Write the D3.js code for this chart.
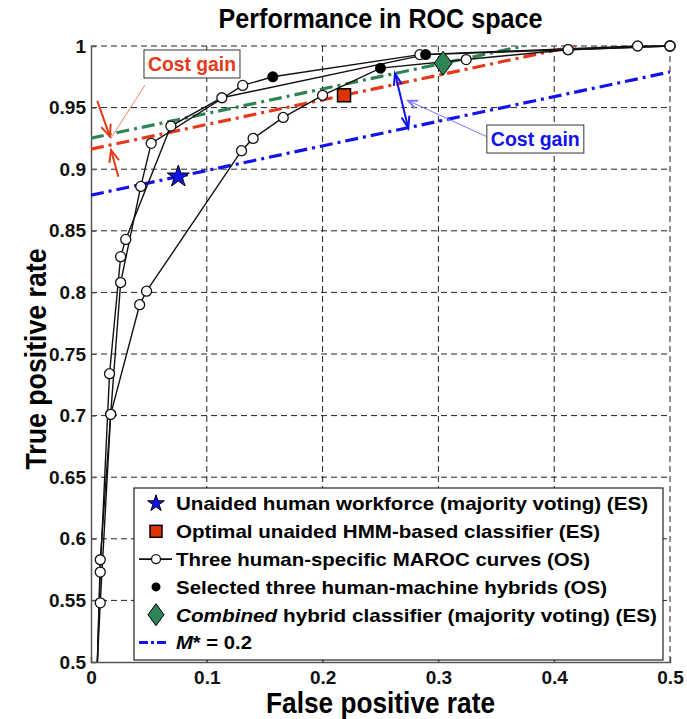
<!DOCTYPE html>
<html>
<head>
<meta charset="utf-8">
<script src="https://cdn.jsdelivr.net/npm/d3@7"></script>
<style>
  html, body { margin: 0; padding: 0; background: #fff; }
  svg { display: block; }
  text { font-family: "Liberation Sans", Arial, sans-serif; font-weight: bold; }
</style>
</head>
<body>
<div id="chart"></div>
<script>
// ---- data ----
const xTicks = [0, 0.1, 0.2, 0.3, 0.4, 0.5];
const xTickLabels = ["0", "0.1", "0.2", "0.3", "0.4", "0.5"];
const yTicks = [0.5, 0.55, 0.6, 0.65, 0.7, 0.75, 0.8, 0.85, 0.9, 0.95, 1];
const yTickLabels = ["0.5", "0.55", "0.6", "0.65", "0.7", "0.75", "0.8", "0.85", "0.9", "0.95", "1"];

// three human-specific MAROC curves (FPR, TPR); first point is where each curve enters the axes
const marocCurve1 = [[0.0055, 0.5], [0.008, 0.548], [0.017, 0.701], [0.0256, 0.808], [0.043, 0.886], [0.052, 0.921], [0.131, 0.968], [0.284, 0.993], [0.472, 1.0], [0.5, 1.0]];
const marocCurve2 = [[0.0055, 0.5], [0.008, 0.573], [0.016, 0.734], [0.0256, 0.829], [0.030, 0.843], [0.069, 0.935], [0.113, 0.958], [0.412, 0.997], [0.5, 1.0]];
const marocCurve3 = [[0.0055, 0.5], [0.008, 0.583], [0.017, 0.701], [0.042, 0.790], [0.048, 0.801], [0.130, 0.915], [0.140, 0.925], [0.166, 0.942], [0.200, 0.960], [0.324, 0.989], [0.412, 0.997], [0.5, 1.0]];
// selected human-machine hybrid on each curve
const hybrids = [[0.157, 0.975], [0.289, 0.993], [0.250, 0.982]];

const unaidedHuman = [0.0754, 0.894];     // star
const optimalHMM = [0.2185, 0.960];       // square
const combinedHybrid = [0.304, 0.986];    // diamond
const isoSlope = 0.2;                     // M* = 0.2

const legendLabels = [
  "Unaided human workforce (majority voting) (ES)",
  "Optimal unaided HMM-based classifier (ES)",
  "Three human-specific MAROC curves (OS)",
  "Selected three human-machine hybrids (OS)",
  "hybrid classifier (majority voting) (ES)",
  " = 0.2"
];
const legendTextWidths = [472, 424, 414, 431, 481, 76];

// ---- setup ----
const W = 687, H = 719;
const svg = d3.select("#chart").append("svg").attr("width", W).attr("height", H);

const x = d3.scaleLinear().domain([0, 0.5]).range([91, 670]);
const y = d3.scaleLinear().domain([0.5, 1]).range([662, 46]);

const RED = "#e5391a", GREEN = "#2e8456", BLUE = "#1212ee";

const defs = svg.append("defs");
defs.append("clipPath").attr("id", "plotclip").append("rect")
  .attr("x", x(0)).attr("y", y(1) - 1).attr("width", x(0.5) - x(0)).attr("height", y(0.5) - y(1) + 1);

// grid
const grid = svg.append("g");
grid.selectAll(".gx").data(xTicks.slice(1)).join("line")
  .attr("x1", d => x(d)).attr("x2", d => x(d)).attr("y1", y(0.5)).attr("y2", y(1))
  .attr("stroke", "#222").attr("stroke-width", 1).attr("stroke-dasharray", "6,4");
grid.selectAll(".gy").data(yTicks.slice(1)).join("line")
  .attr("x1", x(0)).attr("x2", x(0.5)).attr("y1", d => y(d)).attr("y2", d => y(d))
  .attr("stroke", "#222").attr("stroke-width", 1).attr("stroke-dasharray", "6,4");

// axes
const xAxis = d3.axisBottom(x).tickValues(xTicks).tickFormat((d, i) => xTickLabels[i]).tickSize(-5).tickPadding(8);
const yAxis = d3.axisLeft(y).tickValues(yTicks).tickFormat((d, i) => yTickLabels[i]).tickSize(-5).tickPadding(5);
const gx = svg.append("g").attr("transform", `translate(0,${y(0.5)})`).call(xAxis);
const gy = svg.append("g").attr("transform", `translate(${x(0)},0)`).call(yAxis);
[gx, gy].forEach(g => {
  g.select(".domain").attr("stroke", "#555").attr("stroke-width", 1.5);
  g.selectAll(".tick line").attr("stroke", "#555");
  g.selectAll("text").attr("font-size", 19).attr("fill", "#111")
    .attr("font-family", "'Liberation Sans', Arial, sans-serif").attr("font-weight", "bold");
});
gx.selectAll(".tick text").attr("dy", "0.75em");

// iso-performance lines of slope M*
const plot = svg.append("g").attr("clip-path", "url(#plotclip)");
function isoLine(anchor, color) {
  const b = anchor[1] - isoSlope * anchor[0];
  const xEnd = Math.min(0.5, (1 - b) / isoSlope);
  plot.append("line")
    .attr("x1", x(0)).attr("y1", y(b)).attr("x2", x(xEnd)).attr("y2", y(b + isoSlope * xEnd))
    .attr("stroke", color).attr("stroke-width", 3.2).attr("stroke-dasharray", "13,5,3,5");
}
isoLine(unaidedHuman, BLUE);
isoLine(optimalHMM, RED);
isoLine(combinedHybrid, GREEN);

// MAROC curves (with their selected hybrid inserted)
const curves = [marocCurve1, marocCurve2, marocCurve3];
const line = d3.line().x(d => x(d[0])).y(d => y(d[1]));
curves.forEach((c, i) => {
  const pts = c.concat([hybrids[i]]).sort((a, b) => a[0] - b[0]);
  plot.append("path").attr("d", line(pts)).attr("fill", "none").attr("stroke", "#111").attr("stroke-width", 1.4);
});
curves.forEach(c => {
  svg.append("g").selectAll("circle").data(c.filter(d => d[1] > 0.5)).join("circle")
    .attr("cx", d => x(d[0])).attr("cy", d => y(d[1])).attr("r", 5)
    .attr("fill", "#fff").attr("stroke", "#111").attr("stroke-width", 1.3);
});
svg.append("g").selectAll("circle").data(hybrids).join("circle")
  .attr("cx", d => x(d[0])).attr("cy", d => y(d[1])).attr("r", 5.5).attr("fill", "#000");

// markers
const starPath = d3.symbol().type(d3.symbolStar).size(150)();
const diamondPath = (w, h) => `M0,${-h}L${w},0L0,${h}L${-w},0Z`;
svg.append("path").attr("d", starPath)
  .attr("transform", `translate(${x(unaidedHuman[0])},${y(unaidedHuman[1])})`)
  .attr("fill", BLUE).attr("stroke", "#000").attr("stroke-width", 1);
svg.append("rect").attr("x", x(optimalHMM[0]) - 6.5).attr("y", y(optimalHMM[1]) - 6.5)
  .attr("width", 13).attr("height", 13).attr("fill", "#dd3300").attr("stroke", "#000").attr("stroke-width", 1.5);
svg.append("path").attr("d", diamondPath(9, 12))
  .attr("transform", `translate(${x(combinedHybrid[0])},${y(combinedHybrid[1])})`)
  .attr("fill", GREEN).attr("stroke", "#000").attr("stroke-width", 1);

// annotations
function arrowHead(g, x1, y1, x2, y2, color, len, width) {
  const a = Math.atan2(y2 - y1, x2 - x1);
  const p1 = [x2 - len * Math.cos(a) + width * Math.sin(a), y2 - len * Math.sin(a) - width * Math.cos(a)];
  const p2 = [x2 - len * Math.cos(a) - width * Math.sin(a), y2 - len * Math.sin(a) + width * Math.cos(a)];
  g.append("path").attr("d", `M${p1}L${x2},${y2}L${p2}`).attr("fill", "none").attr("stroke", color)
    .attr("stroke-width", 2).attr("stroke-linejoin", "miter");
}
function arrow(from, to, color, sw, heads, len, width) {
  const g = svg.append("g");
  const [x1, y1, x2, y2] = [x(from[0]), y(from[1]), x(to[0]), y(to[1])];
  g.append("line").attr("x1", x1).attr("y1", y1).attr("x2", x2).attr("y2", y2)
    .attr("stroke", color).attr("stroke-width", sw);
  if (heads.includes("end")) arrowHead(g, x1, y1, x2, y2, color, len, width);
  if (heads.includes("start")) arrowHead(g, x2, y2, x1, y1, color, len, width);
}
function label(center, text, color, w, h) {
  const cx = x(center[0]), cy = y(center[1]);
  svg.append("rect").attr("x", cx - w / 2).attr("y", cy - h / 2).attr("width", w).attr("height", h)
    .attr("fill", "#fff").attr("stroke", "#333").attr("stroke-width", 1);
  svg.append("text").attr("x", cx).attr("y", cy).attr("text-anchor", "middle").attr("dy", "0.36em")
    .attr("font-size", 20).attr("fill", color).attr("textLength", w - 8).attr("lengthAdjust", "spacingAndGlyphs").text(text);
}

// red cost gain
arrow([0.0466, 0.9683], [0.0173, 0.9253], "#f08070", 1, [], 0, 0);
arrow([0.0054, 0.9554], [0.0164, 0.9264], RED, 2, ["end"], 12, 5);
arrow([0.0236, 0.8939], [0.0173, 0.9156], RED, 2, ["end"], 12, 5);
label([0.0872, 0.9854], "Cost gain", RED, 96, 28);

// blue cost gain
arrow([0.3417, 0.9264], [0.274, 0.9556], "#7777ff", 1, ["end"], 9, 4);
arrow([0.2625, 0.9778], [0.274, 0.9332], BLUE, 2, ["start", "end"], 12, 4);
label([0.3837, 0.9245], "Cost gain", BLUE, 97, 28);

// title and axis labels (slightly tall letterforms)
const midX = (x(0) + x(0.5)) / 2, midY = (y(0.5) + y(1)) / 2;
svg.append("text").attr("transform", `translate(${midX},28) scale(1,1.12)`).attr("text-anchor", "middle")
  .attr("font-size", 24).attr("fill", "#000").attr("textLength", 324).attr("lengthAdjust", "spacingAndGlyphs")
  .text("Performance in ROC space");
svg.append("text").attr("transform", `translate(${midX},713) scale(1,1.15)`).attr("text-anchor", "middle")
  .attr("font-size", 25).attr("fill", "#000").attr("textLength", 229).attr("lengthAdjust", "spacingAndGlyphs")
  .text("False positive rate");
svg.append("text").attr("transform", `translate(46,${midY + 5}) rotate(-90) scale(1,1.15)`)
  .attr("text-anchor", "middle").attr("font-size", 25).attr("fill", "#000")
  .attr("textLength", 221).attr("lengthAdjust", "spacingAndGlyphs").text("True positive rate");

// legend
const lg = svg.append("g");
const lx = 134, ly = 488, lw = 529, lh = 172;
lg.append("rect").attr("x", lx).attr("y", ly).attr("width", lw).attr("height", lh)
  .attr("fill", "#fff").attr("stroke", "#222").attr("stroke-width", 1.2);
const rowY = i => ly + 15.5 + i * 27.8;
const symX = lx + 22, textX = lx + 42;
lg.append("path").attr("d", d3.symbol().type(d3.symbolStar).size(85)())
  .attr("transform", `translate(${symX},${rowY(0)})`).attr("fill", BLUE).attr("stroke", "#000").attr("stroke-width", 1);
lg.append("rect").attr("x", symX - 6).attr("y", rowY(1) - 6).attr("width", 12).attr("height", 12)
  .attr("fill", "#dd3300").attr("stroke", "#000").attr("stroke-width", 1.5);
lg.append("line").attr("x1", lx + 5).attr("x2", lx + 38).attr("y1", rowY(2)).attr("y2", rowY(2))
  .attr("stroke", "#111").attr("stroke-width", 1.8);
lg.append("circle").attr("cx", symX).attr("cy", rowY(2)).attr("r", 4.5).attr("fill", "#fff").attr("stroke", "#111").attr("stroke-width", 1.3);
lg.append("circle").attr("cx", symX).attr("cy", rowY(3)).attr("r", 4.5).attr("fill", "#000");
lg.append("path").attr("d", diamondPath(8, 11)).attr("transform", `translate(${symX},${rowY(4)})`)
  .attr("fill", GREEN).attr("stroke", "#000").attr("stroke-width", 1);
lg.append("line").attr("x1", lx + 5).attr("x2", lx + 35).attr("y1", rowY(5)).attr("y2", rowY(5))
  .attr("stroke", BLUE).attr("stroke-width", 3).attr("stroke-dasharray", "9,3,3,3");

legendLabels.forEach((t, i) => {
  const tx = lg.append("text").attr("x", textX).attr("y", rowY(i)).attr("dy", "0.36em")
    .attr("font-size", 19).attr("fill", "#000")
    .attr("textLength", legendTextWidths[i]).attr("lengthAdjust", "spacingAndGlyphs");
  if (i === 4) {
    tx.append("tspan").attr("font-style", "italic").text("Combined");
    tx.append("tspan").text(" " + t);
  } else if (i === 5) {
    tx.append("tspan").attr("font-style", "italic").text("M");
    tx.append("tspan").text("*" + t);
  } else {
    tx.text(t);
  }
});
</script>
</body>
</html>
